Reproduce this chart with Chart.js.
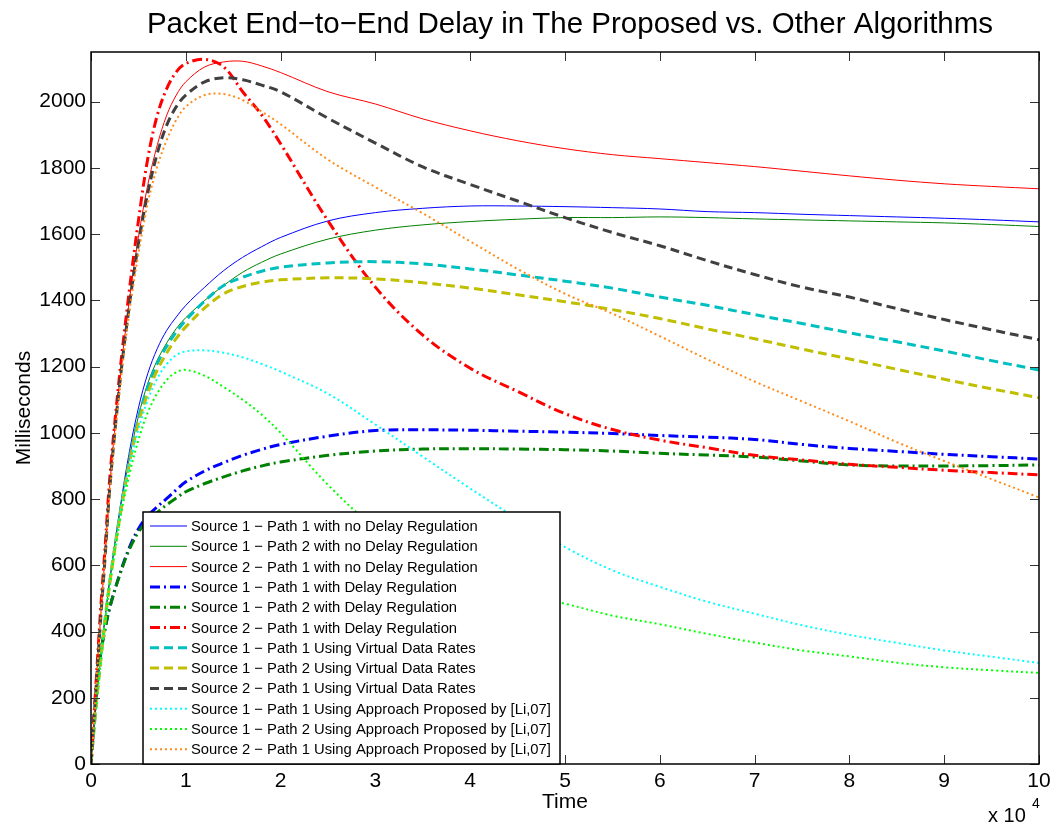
<!DOCTYPE html>
<html><head><meta charset="utf-8">
<script src="https://cdn.jsdelivr.net/npm/chart.js@4.4.0/dist/chart.umd.min.js"></script>
<style>html,body{margin:0;padding:0;background:#fff;}</style>
</head><body>
<canvas id="c" width="1060" height="825" style="display:block;width:1060px;height:825px"></canvas>
<script>
// ---- data (time in seconds, delay in milliseconds) ----
const times = [0,500,1000,1500,2000,3000,4000,5000,6000,7000,8000,9000,10000,12000,14000,16000,18000,20000,25000,30000,35000,40000,45000,50000,55000,60000,65000,70000,75000,80000,85000,90000,95000,100000];

const s1p1NoReg  = [0,170,320,445,560,760,935,1075,1180,1255,1310,1350,1385,1440,1490,1530,1562,1590,1640,1665,1678,1685,1685,1683,1680,1676,1668,1665,1660,1656,1652,1648,1643,1637];
const s1p2NoReg  = [0,170,320,445,558,752,915,1050,1150,1220,1272,1315,1348,1400,1445,1485,1515,1540,1585,1612,1628,1638,1645,1650,1650,1652,1650,1646,1643,1640,1637,1634,1629,1623];
const s2p1NoReg  = [0,220,440,640,850,1150,1390,1590,1750,1870,1960,2020,2060,2105,2120,2122,2108,2088,2030,1993,1948,1912,1882,1858,1840,1828,1816,1804,1790,1776,1763,1752,1744,1737];
const s1p1Reg    = [0,200,330,410,475,570,650,710,750,777,802,828,852,885,910,932,950,965,990,1007,1009,1008,1005,1002,998,992,987,980,965,953,944,935,928,921];
const s1p2Reg    = [0,200,330,410,475,568,645,700,735,760,783,803,822,847,867,885,900,912,932,945,951,952,951,949,945,938,933,927,915,903,900,900,901,903];
const s2p1Reg    = [0,230,460,660,870,1170,1420,1640,1830,1960,2040,2090,2115,2128,2105,2030,1960,1873,1640,1440,1295,1195,1125,1058,1010,978,955,932,918,905,896,887,880,873];
const s1p1Virt   = [0,165,310,440,555,745,910,1045,1140,1210,1262,1305,1340,1398,1445,1470,1488,1500,1513,1517,1510,1495,1477,1458,1437,1410,1385,1357,1330,1302,1275,1247,1218,1190];
const s1p2Virt   = [0,165,305,435,550,738,900,1030,1120,1190,1242,1285,1320,1377,1420,1442,1455,1462,1468,1465,1453,1437,1417,1396,1372,1345,1314,1284,1253,1223,1192,1162,1133,1106];
const s2p1Virt   = [0,215,430,630,840,1140,1375,1570,1725,1845,1930,1985,2020,2060,2072,2066,2050,2030,1950,1875,1803,1750,1700,1650,1605,1565,1520,1478,1440,1410,1375,1342,1311,1281];
const s1p1Li     = [0,165,305,435,548,738,890,1010,1100,1165,1208,1235,1246,1249,1242,1228,1208,1185,1118,1025,928,832,740,655,585,535,490,454,419,390,366,343,324,305];
const s1p2Li     = [0,165,305,432,545,728,868,978,1062,1120,1160,1183,1190,1172,1138,1100,1055,1000,843,712,620,555,515,484,448,422,393,367,343,325,306,292,283,275];
const s2p1Li     = [0,215,430,630,830,1120,1355,1540,1695,1805,1885,1945,1985,2020,2023,2005,1970,1932,1825,1742,1663,1578,1495,1420,1360,1292,1222,1155,1095,1035,972,915,860,805];

const seriesLabels = [
  'Source 1 \u2212 Path 1 with no Delay Regulation',
  'Source 1 \u2212 Path 2 with no Delay Regulation',
  'Source 2 \u2212 Path 1 with no Delay Regulation',
  'Source 1 \u2212 Path 1 with Delay Regulation',
  'Source 1 \u2212 Path 2 with Delay Regulation',
  'Source 2 \u2212 Path 1 with Delay Regulation',
  'Source 1 \u2212 Path 1 Using Virtual Data Rates',
  'Source 1 \u2212 Path 2 Using Virtual Data Rates',
  'Source 2 \u2212 Path 1 Using Virtual Data Rates',
  'Source 1 \u2212 Path 1 Using Approach Proposed by [Li,07]',
  'Source 1 \u2212 Path 2 Using Approach Proposed by [Li,07]',
  'Source 2 \u2212 Path 1 Using Approach Proposed by [Li,07]'
];
const seriesValues = [s1p1NoReg, s1p2NoReg, s2p1NoReg, s1p1Reg, s1p2Reg, s2p1Reg, s1p1Virt, s1p2Virt, s2p1Virt, s1p1Li, s1p2Li, s2p1Li];
const xTickStep = 10000;
const yTickStep = 200;

// ---- styles ----
const colors = ['#0000ff','#008000','#ff0000','#0000ff','#008000','#ff0000','#00bfbf','#bfbf00','#404040','#00ffff','#00ff00','#ff8c1a'];
const widths = [1,1,1,3,3,3,3,3,3,2,2,2];
const DASHDOT = [10,4,2,4], DASHED = [9,5], DOTTED = [2,3];
const dashes = [[],[],[],DASHDOT,DASHDOT,DASHDOT,DASHED,DASHED,DASHED,DOTTED,DOTTED,DOTTED];
const FONT = '"Liberation Sans", Arial, Helvetica, sans-serif';

const datasets = seriesValues.map((vals, i) => ({
  label: seriesLabels[i],
  data: times.map((t, k) => ({x: t, y: vals[k]})),
  borderColor: colors[i],
  borderWidth: widths[i],
  borderDash: dashes[i],
  pointRadius: 0,
  fill: false,
  tension: 0.35,
  order: 12 - i
}));

const decor = {
  id: 'decor',
  afterDraw(chart) {
    const ctx = chart.ctx, a = chart.chartArea;
    const xs = chart.scales.x, ys = chart.scales.y;
    ctx.save();
    // inward tick marks on all four sides
    ctx.strokeStyle = '#333'; ctx.lineWidth = 1; ctx.setLineDash([]);
    const TL = 9;
    xs.ticks.forEach(t => {
      const px = Math.round(xs.getPixelForValue(t.value)) + 0.5;
      ctx.beginPath(); ctx.moveTo(px, a.bottom); ctx.lineTo(px, a.bottom - TL); ctx.stroke();
      ctx.beginPath(); ctx.moveTo(px, a.top); ctx.lineTo(px, a.top + TL); ctx.stroke();
    });
    ys.ticks.forEach(t => {
      const py = Math.round(ys.getPixelForValue(t.value)) + 0.5;
      ctx.beginPath(); ctx.moveTo(a.left, py); ctx.lineTo(a.left + TL, py); ctx.stroke();
      ctx.beginPath(); ctx.moveTo(a.right, py); ctx.lineTo(a.right - TL, py); ctx.stroke();
    });
    // axes box
    ctx.strokeStyle = '#000'; ctx.lineWidth = 1.5;
    ctx.strokeRect(a.left, a.top, a.right - a.left, a.bottom - a.top);

    // legend
    const lx = 143, ly = 512, lw = 417, lh = 252;
    ctx.fillStyle = '#fff';
    ctx.fillRect(lx, ly, lw, lh);
    ctx.strokeStyle = '#000'; ctx.lineWidth = 1.5;
    ctx.strokeRect(lx, ly, lw, lh);
    ctx.font = '14.8px ' + FONT;
    ctx.textBaseline = 'middle'; ctx.textAlign = 'left';
    chart.data.datasets.forEach((ds, i) => {
      const cy = 526 + i * 20.3;
      ctx.strokeStyle = ds.borderColor; ctx.lineWidth = ds.borderWidth;
      ctx.setLineDash(ds.borderDash || []);
      ctx.beginPath(); ctx.moveTo(150, cy); ctx.lineTo(187, cy); ctx.stroke();
      ctx.setLineDash([]);
      ctx.fillStyle = '#000';
      ctx.fillText(ds.label, 191, cy + 1);
    });

    // title and axis labels
    ctx.fillStyle = '#000';
    ctx.font = '29.5px ' + FONT; ctx.textAlign = 'center'; ctx.textBaseline = 'alphabetic';
    ctx.fillText('Packet End\u2212to\u2212End Delay in The Proposed vs. Other Algorithms', 570, 33);
    ctx.font = '21px ' + FONT;
    ctx.fillText('Time', 565, 808);
    ctx.save();
    ctx.translate(30, 408); ctx.rotate(-Math.PI / 2);
    ctx.fillText('Milliseconds', 0, 0);
    ctx.restore();
    ctx.textAlign = 'left';
    ctx.font = '20px ' + FONT;
    ctx.fillText('x 10', 988, 822);
    ctx.font = '14px ' + FONT;
    ctx.fillText('4', 1032, 808);
    ctx.restore();
  }
};

new Chart(document.getElementById('c'), {
  type: 'line',
  data: { datasets },
  options: {
    responsive: false,
    animation: false,
    devicePixelRatio: 1,
    layout: { padding: { left: 0, right: 21, top: 52, bottom: 0 } },
    plugins: { legend: { display: false }, title: { display: false }, tooltip: { enabled: false } },
    scales: {
      x: {
        type: 'linear', min: 0, max: 100000,
        grid: { display: false, drawTicks: false },
        border: { display: false },
        afterFit(s) { s.height = 61; },
        ticks: {
          stepSize: xTickStep, autoSkip: false, maxRotation: 0, includeBounds: false,
          color: '#000', padding: 5, font: { family: FONT, size: 21 },
          callback: v => String(v / xTickStep)
        }
      },
      y: {
        type: 'linear', min: 0, max: 2150,
        grid: { display: false, drawTicks: false },
        border: { display: false },
        afterFit(s) { s.width = 91; },
        ticks: {
          stepSize: yTickStep, includeBounds: false, autoSkip: false,
          color: '#000', padding: 5, font: { family: FONT, size: 21 },
          callback: v => String(v)
        }
      }
    }
  },
  plugins: [decor]
});
</script>
</body></html>
